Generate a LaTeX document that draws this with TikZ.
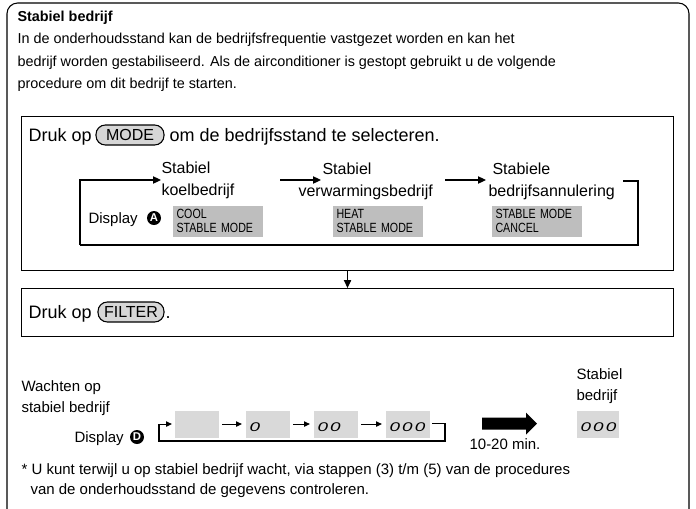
\documentclass[tikz,border=0pt]{standalone}
\usepackage{fontspec}
\usepackage{graphicx}
\setmainfont{Liberation Sans}
\newfontfamily\lcdfont[FakeStretch=0.8]{Liberation Sans}
\usetikzlibrary{arrows.meta,calc}
\newdimen\pxu \pxu=0.75pt
\definecolor{lcd}{HTML}{BEBEBE}
\definecolor{lcdlight}{HTML}{D9D9D9}
\definecolor{pillgray}{HTML}{D6D6D6}
\newcommand{\segdig}[1]{\scalebox{1.05}[0.7]{\itshape #1}}
\begin{document}
\begin{tikzpicture}[x=0.75pt,y=-0.75pt,line width=0.8pt,
  txt/.style={inner sep=0pt,anchor=base west},
  hdr/.style={txt,font=\fontsize{10.8}{12}\selectfont},
  big/.style={txt,font=\fontsize{13.5}{15}\selectfont},
  mid/.style={txt,font=\fontsize{12}{14}\selectfont},
  sml/.style={txt,font=\fontsize{11.25}{13}\selectfont},
  pill/.style={draw,fill=pillgray,rounded corners=7pt,inner sep=0pt,
     minimum height=20\pxu,font=\fontsize{12}{13}\selectfont},
  lcdbox/.style={fill=lcd,inner xsep=4\pxu,inner ysep=0pt,minimum width=90\pxu,
     minimum height=31\pxu,text width=82\pxu,align=left,anchor=north west,
     font=\lcdfont\fontsize{10}{11}\selectfont},
  seg/.style={fill=lcdlight,inner sep=0pt,minimum width=44\pxu,minimum height=27\pxu,anchor=north west},
  digs/.style={inner sep=0pt,anchor=west,font=\fontsize{13.5}{14}\selectfont},
  tri/.style={-{Triangle[length=6pt,width=5.5pt]}},
  stri/.style={-{Triangle[length=4.5pt,width=4pt]}},
  badge/.style={circle,fill=black,text=white,inner sep=0pt,minimum size=14\pxu,
     font=\bfseries\fontsize{8.5}{9}\selectfont}
]
\useasboundingbox (0,0) rectangle (696,508);
% outer frame
\draw[rounded corners=8pt] (7,520) -- (7,3) -- (689,3) -- (689,520);
% header
\node[txt,font=\bfseries\fontsize{10.8}{12}\selectfont] (title) at (17,21) {Stabiel bedrijf};
\node[hdr] (l1) at (17,43.5) {In de onderhoudsstand kan de bedrijfsfrequentie vastgezet worden en kan het};
\node[hdr] (l2) at (17,66) {bedrijf worden gestabiliseerd. Als de airconditioner is gestopt gebruikt u de volgende};
\node[hdr] (l3) at (17,88.5) {procedure om dit bedrijf te starten.};
% box 1
\node[draw,inner sep=0pt,minimum width=652\pxu,minimum height=154\pxu,anchor=north west] (box1) at (21,116) {};
\node[big] (druk1) at (28,141) {Druk op};
\node[pill,minimum width=68\pxu] (mode) at (130,135) {MODE};
\node[big] (sel) at (169,141) {om de bedrijfsstand te selecteren.};
% mode labels
\node[mid,anchor=west,align=left,font=\fontsize{12}{16.5}\selectfont] (s1) at (161,180) {Stabiel\\koelbedrijf};
\node[mid] (s2a) at (322,174) {Stabiel};
\node[mid] (s2b) at (298,196.5) {verwarmingsbedrijf};
\node[mid] (s3a) at (492,174) {Stabiele};
\node[mid] (s3b) at (488,196.5) {bedrijfsannulering};
\coordinate (loopbl) at (80,245);
\coordinate (loopbr) at (638,245);
\coordinate (looptr) at (623,181);
\coordinate (a2s) at (280,180);
\coordinate (a2e) at (321,180);
\coordinate (a3s) at (445,180);
\coordinate (a3e) at (486,180);
\draw[tri] (loopbl) |- (s1.west);
\draw[tri] (a2s) -- (a2e);
\draw[tri] (a3s) -- (a3e);
\draw (looptr) -| (loopbr) -- (loopbl);
\node[sml] (disp1) at (88,223.5) {Display};
\node[badge] (ba) at (154,218) {A};
\node[lcdbox] (cool) at (172,205) {COOL\\STABLE MODE};
\node[lcdbox] (heat) at (332,205) {HEAT\\STABLE MODE};
\node[lcdbox] (cancel) at (491,205) {STABLE MODE\\CANCEL};
% box 2
\node[draw,inner sep=0pt,minimum width=652\pxu,minimum height=48\pxu,anchor=north west] (box2) at (21,288) {};
\draw[tri] (box1.south) -- (box2.north);
\node[big] (druk2) at (28,318) {Druk op};
\node[pill,minimum width=66\pxu] (filter) at (131,312) {FILTER};
\node[big] (dot) at (165,318) {.};
% waiting
\node[sml] (w1) at (21,391.5) {Wachten op};
\node[sml] (w2) at (21,412) {stabiel bedrijf};
\node[sml] (disp2) at (74,442.5) {Display};
\node[badge] (bd) at (137,437) {D};
\node[seg] (d1) at (174,410) {};
\node[seg] (d2) at (245,410) {};
\node[seg] (d3) at (313,410) {};
\node[seg] (d4) at (385,410) {};
\node[digs] (t2) at ($(d2.west)+(4,3)$) {\segdig{0}};
\node[digs] (t3) at ($(d3.west)+(4,3)$) {\segdig{0\kern1.5pt0}};
\node[digs] (t4) at ($(d4.west)+(4,3)$) {\segdig{0\kern1.5pt0\kern1.5pt0}};
\draw[stri,shorten >=3\pxu,shorten <=3\pxu] (d1.east) -- (d2.west);
\draw[stri,shorten >=3\pxu,shorten <=3\pxu] (d2.east) -- (d3.west);
\draw[stri,shorten >=3\pxu,shorten <=3\pxu] (d3.east) -- (d4.west);
\coordinate (rb1) at (432,423.5);
\coordinate (rb2) at (445,441);
\coordinate (lb) at (159,441);
\draw[stri,shorten >=2\pxu] (rb1) -| (rb2) -- (lb) |- (d1.west);
% big arrow
\fill (482,417.5) -- (526,417.5) -- (526,412.5) -- (537,423.5) -- (526,434.5) -- (526,429.5) -- (482,429.5) -- cycle;
\node[sml,anchor=base] (mins) at (505,449) {10-20 min.};
\node[sml] (st1) at (576,379) {Stabiel};
\node[sml] (st2) at (576,400) {bedrijf};
\node[seg,minimum width=42\pxu] (fin) at (576,410) {};
\node[digs] (tf) at ($(fin.west)+(4,3)$) {\segdig{0\kern1.5pt0\kern1.5pt0}};
% footnote
\node[sml] (f1) at (21,474.5) {* U kunt terwijl u op stabiel bedrijf wacht, via stappen (3) t/m (5) van de procedures};
\node[sml] (f2) at (30,494) {van de onderhoudsstand de gegevens controleren.};
\end{tikzpicture}
\end{document}
